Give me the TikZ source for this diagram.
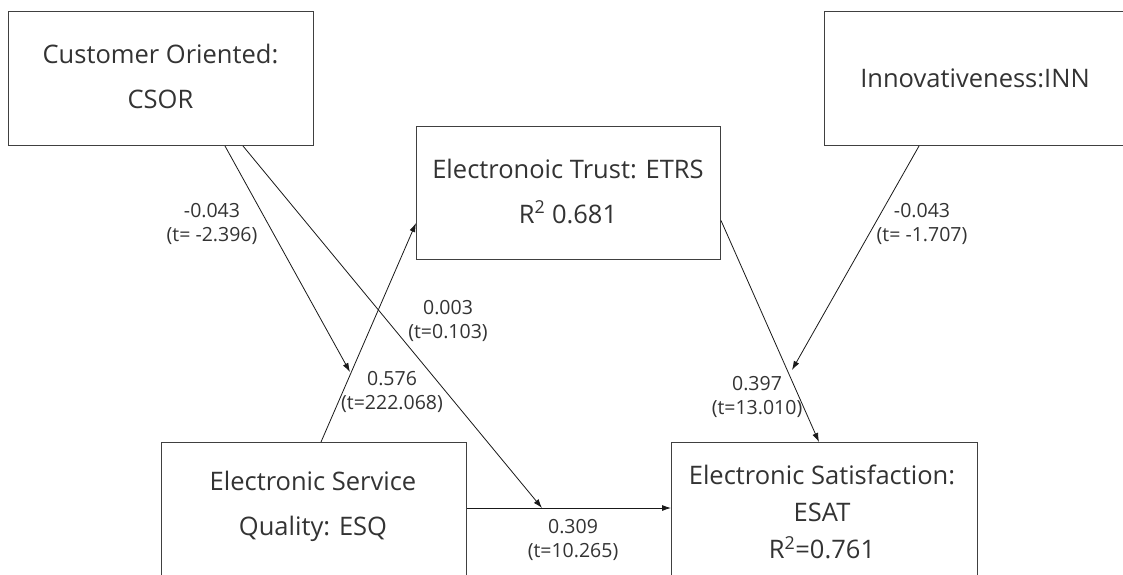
\documentclass[tikz,border=0pt]{standalone}
\usepackage{fontspec}
\setmainfont{Open Sans}
\usetikzlibrary{arrows.meta}
\begin{document}
\begin{tikzpicture}[x=1pt,y=-1pt,
  box/.style={draw=black!75,line width=1pt,rectangle,inner sep=0pt,anchor=north west},
  boxtext/.style={text=black!80,align=center,font=\fontsize{25.5}{45}\selectfont,inner sep=0pt},
  lbl/.style={text=black!80,align=center,font=\fontsize{19.5}{24}\selectfont,inner sep=0pt},
  conn/.style={draw=black!90,line width=0.8pt,-{Latex[length=9pt,width=6pt]}}]
\useasboundingbox (0,0) rectangle (1123,574);
\clip (0,0) rectangle (1123,574);
\fill[white] (0,0) rectangle (1123,574);
% boxes
\node[box,minimum width=305pt,minimum height=134pt] (csor) at (8,11) {};
\node[box,minimum width=310pt,minimum height=134pt] (inn) at (824,11) {};
\node[box,minimum width=304pt,minimum height=133pt] (etrs) at (416,126) {};
\node[box,minimum width=305pt,minimum height=160pt] (esq) at (161,442) {};
\node[box,minimum width=306pt,minimum height=160pt] (esat) at (671,442) {};
% box texts
\node[boxtext] (csort) at (160.5,76) {Customer Oriented:\\CSOR};
\node[boxtext] (innt) at (975,78) {Innovativeness:INN};
\node[boxtext] (etrst) at (568,191) {Electronoic Trust: ETRS\\R\textsuperscript{2} 0.681};
\node[boxtext] (esqt) at (313,506) {Electronic Service\\Quality: ESQ};
\node[boxtext,font=\fontsize{25.5}{37}\selectfont] (esatt) at (822,512) {Electronic Satisfaction:\\ESAT\\R\textsuperscript{2}=0.761};
% free ends
\coordinate (c1) at (350,372);
\coordinate (c2) at (542,508);
\coordinate (c3) at (792,370);
% connectors
\draw[conn] ([xshift=217pt]csor.south west) -- (c1);
\draw[conn] ([xshift=235pt]csor.south west) -- (c2);
\draw[conn] ([xshift=160pt]esq.north west) -- ([yshift=-30pt]etrs.west);
\draw[conn] ([yshift=-27.5pt]etrs.east) -- ([xshift=148pt]esat.north west);
\draw[conn] ([xshift=95pt]inn.south west) -- (c3);
\draw[conn] ([yshift=-66pt]esq.north east) -- ([yshift=-66pt]esat.north west);
% labels
\node[lbl] (l1) at (212,224) {-0.043\\(t= -2.396)};
\node[lbl] (l2) at (448,321) {0.003\\(t=0.103)};
\node[lbl] (l3) at (392,392) {0.576\\(t=222.068)};
\node[lbl] (l4) at (922,224) {-0.043\\(t= -1.707)};
\node[lbl] (l5) at (757,397) {0.397\\(t=13.010)};
\node[lbl] (l6) at (573,540) {0.309\\(t=10.265)};
\end{tikzpicture}
\end{document}
